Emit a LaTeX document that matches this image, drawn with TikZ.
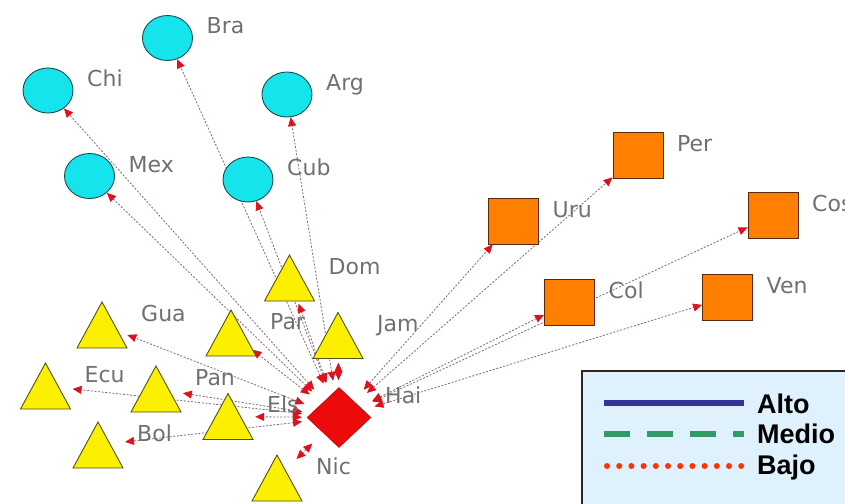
\documentclass[tikz,border=0pt]{standalone}
\usepackage{fontspec}
\setmainfont{DejaVu Sans}
\newfontfamily\legfont{Liberation Sans}
\usetikzlibrary{shapes.geometric,arrows.meta}
\pgfdeclarelayer{bg}
\pgfsetlayers{bg,main}
\definecolor{cyanfill}{RGB}{22,228,236}
\definecolor{circline}{RGB}{25,75,80}
\definecolor{orangefill}{RGB}{255,128,0}
\definecolor{sqline}{RGB}{90,40,10}
\definecolor{yellowfill}{RGB}{250,240,0}
\definecolor{triline}{RGB}{85,80,20}
\definecolor{hubred}{RGB}{236,10,10}
\definecolor{labgray}{RGB}{112,112,112}
\definecolor{edgecol}{RGB}{128,104,110}
\definecolor{arrowred}{RGB}{222,18,30}
\definecolor{legfill}{RGB}{223,241,252}
\definecolor{legline}{RGB}{40,40,40}
\definecolor{altoblue}{RGB}{51,51,153}
\definecolor{mediogreen}{RGB}{51,153,102}
\definecolor{bajored}{RGB}{255,51,0}
\begin{document}
\begin{tikzpicture}[x=1pt,y=-1pt,
  circ/.style={ellipse, draw=circline, fill=cyanfill, line width=0.9pt, minimum width=50pt, minimum height=45pt, inner sep=0pt},
  sq/.style={rectangle, draw=sqline, fill=orangefill, line width=0.9pt, minimum width=50pt, minimum height=46pt, inner sep=0pt},
  trinode/.style={circle, minimum size=54pt, inner sep=0pt},
  trishape/.style={draw=triline, fill=yellowfill, line width=0.9pt},
  hub/.style={diamond, fill=hubred, draw=hubred!75!black, line width=0.5pt, minimum width=64pt, minimum height=60pt, inner sep=0pt},
  hubzone/.style={circle, minimum size=74pt, inner sep=0pt},
  lab/.style={anchor=base west, inner sep=0pt, text=labgray, font=\fontsize{22}{26}\selectfont},
  edge/.style={draw=edgecol, line width=0.8pt, dash pattern=on 2pt off 1.6pt,
    {Triangle[length=9pt,width=8pt,color=arrowred]}-{Triangle[length=9pt,width=8pt,color=arrowred]}},
  legtext/.style={anchor=base west, inner sep=0pt, font=\legfont\bfseries\fontsize{27}{31}\selectfont}
]
\useasboundingbox (0,0) rectangle (845,503);

% circles
\node[circ] (Bra) at (167.5,38) {};
\node[circ] (Chi) at (48,90.5) {};
\node[circ] (Arg) at (287,94.5) {};
\node[circ] (Mex) at (89.5,176) {};
\node[circ] (Cub) at (248,179.5) {};
% squares
\node[sq] (Per) at (638,155) {};
\node[sq] (Uru) at (513.5,221) {};
\node[sq] (Cos) at (773,215.5) {};
\node[sq] (Col) at (569.5,302) {};
\node[sq] (Ven) at (727.5,297) {};
% triangles (connector zones)
\node[trinode] (Dom) at (289.5,278) {};
\node[trinode] (Gua) at (102,325) {};
\node[trinode] (Par) at (231,333) {};
\node[trinode] (Jam) at (338,335.5) {};
\node[trinode] (Ecu) at (45.5,386) {};
\node[trinode] (Pan) at (156,389) {};
\node[trinode] (Els) at (228,416.5) {};
\node[trinode] (Bol) at (98,445) {};
\node[trinode] (Nic) at (277,478) {};
\foreach \n in {Dom,Gua,Par,Jam,Ecu,Pan,Els,Bol,Nic}
  \draw[trishape] ([shift={(0,-23)}]\n.center) -- ([shift={(-25,23)}]\n.center) -- ([shift={(25,23)}]\n.center) -- cycle;
% hub
\node[hubzone] (Hai) at (339,417.5) {};
\node[hub] (Haid) at (339,417.5) {};

% edges
\begin{pgfonlayer}{bg}
\foreach \n in {Chi,Bra,Arg,Mex,Cub,Dom,Gua,Par,Jam,Ecu,Pan,Els,Bol,Nic,Uru,Per,Cos,Col,Ven}
  \draw[edge] (Hai) -- (\n);
\end{pgfonlayer}

% labels
\node[lab] (Bra-l) at (206.5,34) {Bra};
\node[lab] (Chi-l) at (87,86.5) {Chi};
\node[lab] (Arg-l) at (326,90.5) {Arg};
\node[lab] (Mex-l) at (128.5,172) {Mex};
\node[lab] (Cub-l) at (287,175.5) {Cub};
\node[lab] (Per-l) at (677,151) {Per};
\node[lab] (Uru-l) at (552.5,217) {Uru};
\node[lab] (Cos-l) at (812,211.5) {Cos};
\node[lab] (Col-l) at (608.5,298) {Col};
\node[lab] (Ven-l) at (766.5,293) {Ven};
\node[lab] (Dom-l) at (328.5,274) {Dom};
\node[lab] (Gua-l) at (141,321) {Gua};
\node[lab] (Par-l) at (270,329) {Par};
\node[lab] (Jam-l) at (377,331.5) {Jam};
\node[lab] (Ecu-l) at (84.5,382) {Ecu};
\node[lab] (Pan-l) at (195,385) {Pan};
\node[lab] (Els-l) at (267,412.5) {Els};
\node[lab] (Bol-l) at (137,441) {Bol};
\node[lab] (Nic-l) at (316,474) {Nic};
\node[lab] (Hai-l) at (385,403) {Hai};

% legend
\draw[fill=legfill, draw=legline, line width=2pt] (582,371) rectangle (870,530);
\draw[altoblue, line width=6pt] (604,403) -- (744,403);
\draw[mediogreen, line width=6pt, dash pattern=on 26pt off 17pt] (604,434) -- (744,434);
\foreach \k in {0,...,11}
  \fill[bajored] (607+12.2*\k,466) circle (3pt);
\node[legtext] (alto) at (757,413) {Alto};
\node[legtext] (medio) at (757,443.5) {Medio};
\node[legtext] (bajo) at (757,474) {Bajo};
\end{tikzpicture}
\end{document}
